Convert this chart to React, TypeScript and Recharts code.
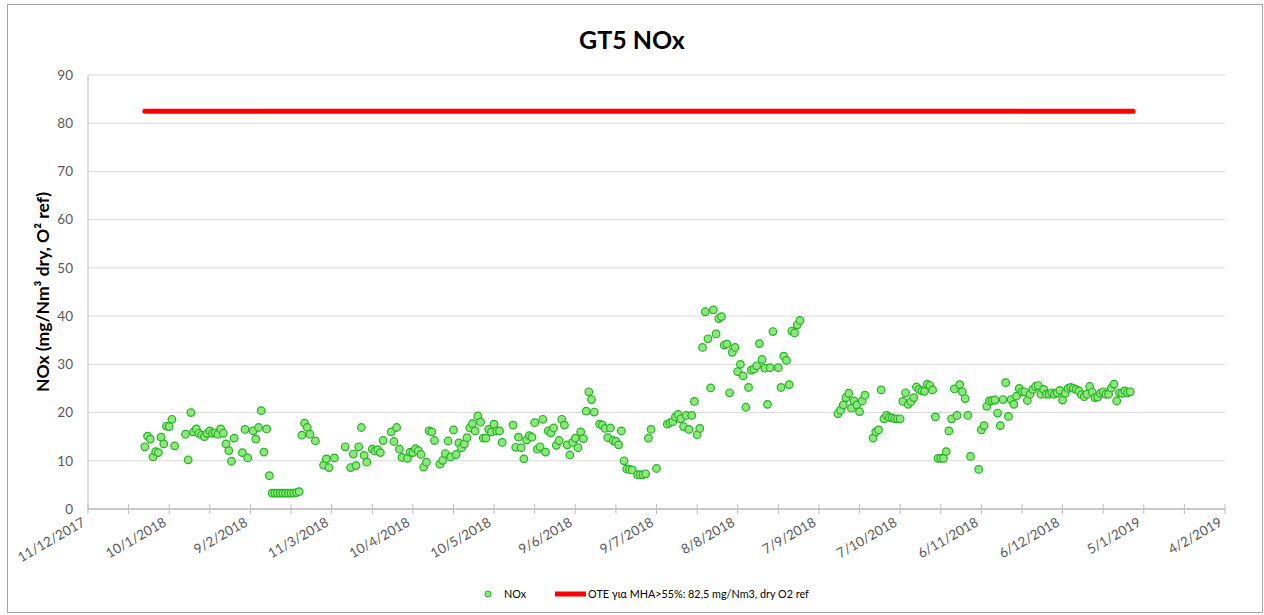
import { ComposedChart, Scatter, Line, XAxis, YAxis, CartesianGrid } from "recharts";

// daily NOx readings starting 1/1/2018, null = no reading that day
const startDate = "2018-01-01";
const noxValues: (number | null)[] = [
  12.9, 15.1, 14.5, 10.8, 11.9, 11.7, 14.9, 13.5, 17.2, 17.1,
  18.6, 13.1, null, null, null, 15.5, 10.2, 20.0, 16.0, 16.6,
  15.7, 15.3, 15.0, 15.7, 16.2, 15.7, 15.8, 15.5, 16.6, 15.7,
  13.5, 12.1, 9.9, 14.7, null, null, 11.7, 16.5, 10.6, null,
  16.2, 14.5, 16.9, 20.4, 11.8, 16.6, 6.9, 3.3, 3.3, 3.3,
  3.3, 3.3, 3.3, 3.3, 3.3, 3.3, 3.4, 3.6, 15.3, 17.8,
  16.9, 15.5, null, 14.1, null, null, 9.1, 10.4, 8.6, null,
  10.6, null, null, null, 12.9, null, 8.6, 11.4, 9.0, 12.9,
  16.9, 11.1, 9.7, null, 12.4, 12.0, 12.3, 11.7, 14.2, null,
  null, 16.0, 14.0, 16.9, 12.4, 10.7, null, 10.5, 11.8, 11.7,
  12.5, 12.1, 11.3, 8.7, 9.7, 16.2, 16.0, 14.2, null, 9.3,
  10.1, 11.5, 14.1, 10.8, 16.4, 11.3, 13.7, 12.7, 13.5, 14.8,
  16.8, 17.7, 16.2, 19.3, 18.0, 14.7, 14.7, 16.5, 16.0, 17.6,
  16.2, 16.2, 13.8, null, null, null, 17.4, 12.8, 14.9, 12.7,
  10.4, 14.3, 15.2, 14.9, 17.9, 12.4, 12.9, 18.6, 11.8, 16.2,
  15.8, 16.8, 13.2, 14.2, 18.6, 17.4, 13.3, 11.2, 13.8, 14.7,
  12.7, 16.0, 14.6, 20.3, 24.3, 22.7, 20.1, null, 17.6, 17.4,
  16.7, 14.8, 16.8, 14.2, 14.0, 13.3, 16.2, 10.0, 8.3, 8.2,
  8.1, null, 7.1, 7.1, 7.1, 7.3, 14.7, 16.5, null, 8.4,
  null, null, null, 17.6, 17.9, 18.1, 19.1, 19.6, 18.7, 17.1,
  19.4, 16.5, 19.4, 22.3, 15.4, 16.7, 33.5, 40.9, 35.3, 25.1,
  41.3, 36.3, 39.5, 39.9, 34.0, 34.2, 24.1, 32.5, 33.5, 28.5,
  30.0, 27.6, 21.1, 25.2, 28.8, 29.0, 29.7, 34.3, 31.0, 29.2,
  21.7, 29.3, 36.8, null, 29.3, 25.2, 31.7, 30.8, 25.8, 36.9,
  36.5, 38.2, 39.1, null, null, null, null, null, null, null,
  null, null, null, null, null, null, 19.8, 20.5, 21.6, 23.1,
  24.0, 20.9, 22.4, 21.6, 20.2, 22.4, 23.6, null, null, 14.7,
  16.0, 16.4, 24.7, 18.7, 19.4, 19.0, 18.9, 18.7, 18.7, 18.7,
  22.3, 24.1, 21.7, 22.3, 23.1, 25.3, 24.8, 24.5, 24.4, 25.9,
  25.6, 24.7, 19.1, 10.5, 10.5, 10.5, 11.9, 16.2, 18.7, 24.9,
  19.4, 25.8, 24.3, 22.9, 19.4, 10.9, null, null, 8.2, 16.4,
  17.3, 21.3, 22.4, 22.5, 22.6, 19.9, 17.3, 22.7, 26.2, 19.2,
  22.7, 21.7, 23.4, 25.0, 24.3, 24.3, 22.5, 23.8, 24.8, 25.4,
  25.6, 23.8, 24.8, 23.8, 23.8, 24.1, 23.8, 24.1, 24.6, 22.6,
  24.0, 25.0, 25.2, 25.0, 24.8, 24.5, 23.7, 23.3, 23.8, 25.4,
  24.2, 23.1, 23.2, 24.0, 24.3, 23.8, 23.8, 25.1, 25.9, 22.4,
  24.1, 24.0, 24.5, 24.1, 24.3,
];

const limitDates = ["2018-01-01", "2019-01-01"];
const limitValues = [82.5, 82.5];

const axisStart = "2017-12-11";
const axisEnd = "2019-02-04";
const yTicks = [0, 10, 20, 30, 40, 50, 60, 70, 80, 90];

const title = "GT5 NOx";
const yLabel = "NOx (mg/Nm³ dry, O² ref)";
const noxName = "NOx";
const limitName = "ΟΤΕ για ΜΗΑ>55%: 82,5 mg/Nm3, dry O2 ref";

const FONT = "Lato, 'Liberation Sans', sans-serif";
const DAY = 86400000;

const toDay = (s: string) => {
  const [y, m, d] = s.split("-").map(Number);
  return Date.UTC(y, m - 1, d) / DAY;
};
const fmtDay = (t: number) => {
  const d = new Date(t * DAY);
  return `${d.getUTCDate()}/${d.getUTCMonth() + 1}/${d.getUTCFullYear()}`;
};

const first = toDay(startDate);
const noxData = noxValues
  .map((v, i) => (v == null ? null : { t: first + i, v }))
  .filter((p) => p != null) as { t: number; v: number }[];
const limitData = limitDates.map((s, i) => ({ t: toDay(s), v: limitValues[i] }));

const x0 = toDay(axisStart);
const x1 = toDay(axisEnd);
const xTicks: number[] = [];
for (let t = x0; t <= x1; t += 15) xTicks.push(t);

const DateTick = (props: any) => {
  const { x, y, payload } = props;
  const major = (payload.value - x0) % 30 === 0;
  return (
    <g>
      <line x1={x} x2={x} y1={y - 5} y2={y + 5} stroke="#bfbfbf" strokeWidth={1} />
      {major && (
        <text
          x={x - 2}
          y={y + 16}
          textAnchor="end"
          fontSize={13.5}
          fill="#595959"
          fontFamily={FONT}
          transform={`rotate(-30, ${x - 2}, ${y + 16})`}
        >
          {fmtDay(payload.value)}
        </text>
      )}
    </g>
  );
};

const Dot = (props: any) => {
  const { cx, cy } = props;
  if (cx == null || cy == null) return null;
  return <circle cx={cx} cy={cy} r={3.8} fill="#8fe57e" stroke="#22b522" strokeWidth={1.2} />;
};

export default function App() {
  return (
    <div style={{ position: "absolute", left: 0, top: 0, width: 1264, height: 615, background: "#fff", fontFamily: FONT }}>
      <div style={{ position: "absolute", left: 7, top: 4, width: 1254, height: 607, border: "1px solid #a6a6a6" }} />
      <div style={{ position: "absolute", left: 0, top: 24, width: 1264, textAlign: "center", fontSize: 25, fontWeight: 700, color: "#000" }}>
        {title}
      </div>
      <div
        style={{
          position: "absolute", left: 42, top: 292, transform: "translate(-50%, -50%) rotate(-90deg)",
          whiteSpace: "nowrap", fontSize: 17.5, fontWeight: 700, color: "#000",
        }}
      >
        {yLabel}
      </div>
      <div style={{ position: "absolute", left: 0, top: 0 }}>
        <ComposedChart width={1264} height={615} margin={{ top: 75, right: 39, bottom: 46, left: 38 }}>
          <CartesianGrid horizontal vertical={false} stroke="#d9d9d9" strokeWidth={1} />
          <XAxis
            dataKey="t"
            type="number"
            domain={[x0, x1]}
            ticks={xTicks}
            interval={0}
            height={60}
            tickLine={false}
            tickSize={0}
            tickMargin={0}
            axisLine={{ stroke: "#bfbfbf", strokeWidth: 1.5 }}
            tick={<DateTick />}
            allowDataOverflow
          />
          <YAxis
            type="number"
            domain={[0, 90]}
            ticks={yTicks}
            interval={0}
            width={50}
            tickLine={false}
            axisLine={{ stroke: "#bfbfbf" }}
            tick={{ fontSize: 13.5, fill: "#595959", fontFamily: FONT }}
            tickMargin={9}
          />
          <Line
            data={limitData}
            dataKey="v"
            stroke="#ff0000"
            strokeWidth={5}
            strokeLinecap="round"
            dot={false}
            activeDot={false}
            isAnimationActive={false}
          />
          <Scatter data={noxData} dataKey="v" shape={<Dot />} isAnimationActive={false} />
        </ComposedChart>
      </div>
      <div style={{ position: "absolute", left: 482, top: 587, display: "flex", alignItems: "center", fontSize: 10.8, color: "#000" }}>
        <svg width={12} height={12}>
          <circle cx={6} cy={6} r={3} fill="#8fe57e" stroke="#22b522" strokeWidth={1} />
        </svg>
        <span style={{ marginLeft: 10 }}>{noxName}</span>
        <svg width={34} height={12} style={{ marginLeft: 28 }}>
          <line x1={1} x2={32} y1={6} y2={6} stroke="#ff0000" strokeWidth={5} />
        </svg>
        <span>{limitName}</span>
      </div>
    </div>
  );
}
